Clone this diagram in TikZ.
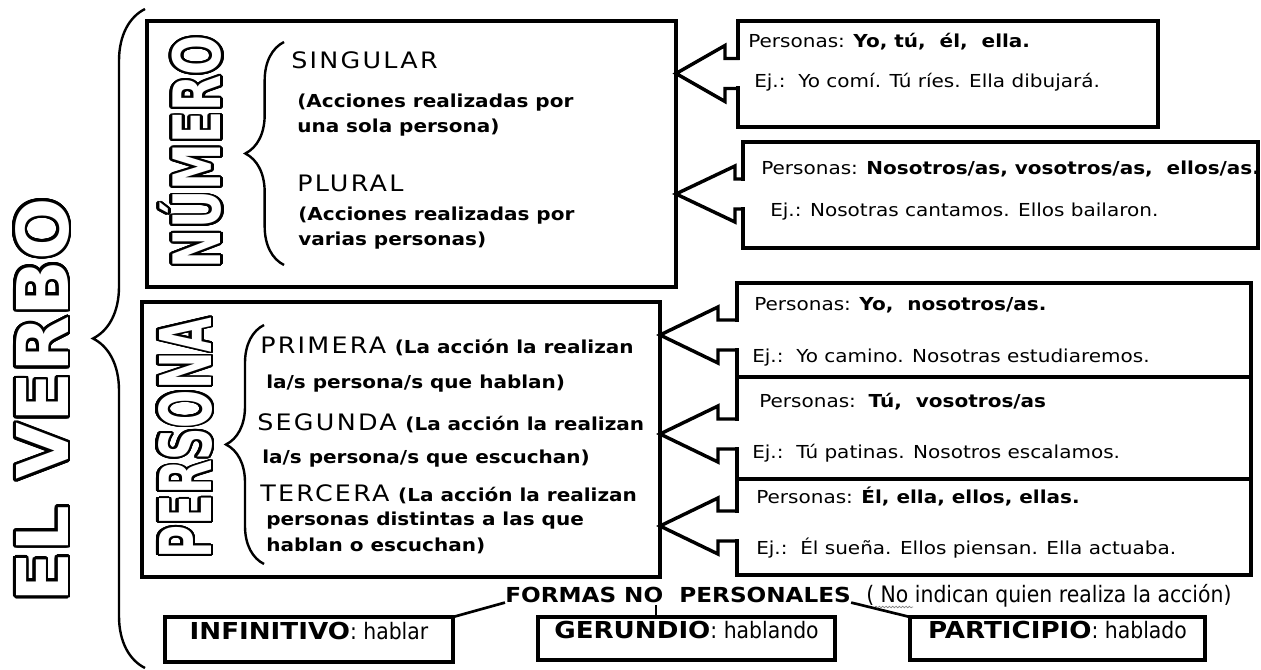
\documentclass[tikz,border=0pt]{standalone}
\usepackage{fontspec}
\setmainfont{DejaVu Sans}[FakeStretch=1.12]
\newfontfamily\capsfont{DejaVu Sans}[FakeStretch=1.12,LetterSpace=10]
\newfontfamily\narrowfont{DejaVu Sans}[FakeStretch=0.9]
\newfontfamily\titlefont{DejaVu Sans}
\usepackage[copies]{contour}
\contourlength{2pt}
\contournumber{32}
\usetikzlibrary{decorations.pathreplacing,decorations.pathmorphing,calc,fit}

\newcommand{\hueco}[2]{\scalebox{#1}[1]{\textcolor{white}{\contour{black}{#2}}}}
\newcommand{\mayus}{\capsfont\fontsize{17}{20}\selectfont}
\newcommand{\etiqueta}{\normalfont\bfseries\fontsize{17.5}{20}\selectfont}

\begin{document}
\begin{tikzpicture}[x=0.75pt,y=-0.75pt,
  caja/.style={draw,line width=2.6pt,inner sep=0pt,outer sep=0pt},
  llave/.style={decorate,decoration={brace,amplitude=#1},line width=1.8pt},
  flecha/.style={line width=2.6pt,line join=miter},
  linea/.style={line width=2pt},
  txt/.style={anchor=base west,inner sep=0pt,font=\fontsize{13.4}{16}\selectfont},
  txtb/.style={txt,font=\bfseries\fontsize{13.4}{16}\selectfont},
  grande/.style={anchor=base west,inner sep=0pt,font=\mayus},
  abajo/.style={caja,font=\narrowfont\fontsize{17}{19}\selectfont}]
   \path[fill=white] (0,0) rectangle (1261,670);
   \useasboundingbox (0,0) rectangle (1261,670);

   \node[rotate=90] (verbo) at (43.5,400) {\hueco{1.03}{\titlefont\bfseries\fontsize{53.5}{60}\selectfont EL VERBO}};
   \draw[llave=39pt] (145,668) -- (145,9);

   \node[caja,fit={(147,21) (676,287)}] (num) {};
   \node[caja,fit={(142,302) (660,577)}] (per) {};
   \node[rotate=90] (tnum) at (192,152) {\hueco{0.72}{\titlefont\bfseries\fontsize{49}{56}\selectfont NÚMERO}};
   \node[rotate=90] (tper) at (186.5,438) {\hueco{0.63}{\titlefont\bfseries\fontsize{53.5}{60}\selectfont PERSONA}};
   \draw[llave=29pt] (284,265) -- (284,42);
   \draw[llave=28.5pt] (264,564) -- (264,325);

   \node[grande] (sing) at (291,69) {SINGULAR};
   \node[txtb] (sing1) at (297,108) {(Acciones realizadas por};
   \node[txtb] (sing2) at (297,133) {una sola persona)};
   \node[grande] (plu) at (297,192) {PLURAL};
   \node[txtb] (plu1) at (298,221) {(Acciones realizadas por};
   \node[txtb] (plu2) at (298,246) {varias personas)};

   \node[txt] (pri) at (260,354) {{\mayus PRIMERA} \textbf{(La acción la realizan}};
   \node[txtb] (pri2) at (266,389) {la/s persona/s que hablan)};
   \node[txt] (seg) at (257,431) {{\mayus SEGUNDA} \textbf{(La acción la realizan}};
   \node[txtb] (seg2) at (262,463) {la/s persona/s que escuchan)};
   \node[txt] (ter) at (260,501) {{\mayus TERCERA} \textbf{(La acción la realizan}};
   \node[txtb] (ter2) at (266,525) {personas distintas a las que};
   \node[txtb] (ter3) at (266,551) {hablan o escuchan)};

   \node[caja,fit={(738,21) (1158,127)}] (c1) {};
   \node[caja,fit={(743,142) (1258,248)}] (c2) {};
   \node[caja,fit={(737,283) (1251,377)}] (c3) {};
   \node[caja,fit={(737,377) (1251,479)}] (c4) {};
   \node[caja,fit={(737,479) (1251,575)}] (c5) {};
   \coordinate (t1) at (676,73.5);
   \coordinate (t2) at (676,194);
   \coordinate (t3) at (660,335);
   \coordinate (t4) at (660,434);
   \coordinate (t5) at (660,526);
   \foreach \c/\t/\g in {c1/t1/13,c2/t2/8,c3/t3/19,c4/t4/19,c5/t5/19}{
     \coordinate (b) at (\c.west |- \t);
     \fill[white] ($(b)+(-2.5,-13)$) rectangle ($(b)+(2.5,13)$);
     \draw[flecha] ($(b)+(1.7,-15)$) -- ++(-\g-1.7,0) -- ++(0,-13) -- (\t)
        -- ($(b)+(-\g,28)$) -- ++(0,-13) -- ++(\g+1.7,0);
   }

   \node[txt] (p1) at (748,48) {Personas: \textbf{Yo, tú,~~él,~~ella.}};
   \node[txt] (e1) at (754,88) {Ej.:~~Yo comí. Tú ríes. Ella dibujará.};
   \node[txt] (p2) at (761,175) {Personas: \textbf{Nosotros/as, vosotros/as,~~ellos/as.}};
   \node[txt] (e2) at (770,217) {Ej.: Nosotras cantamos. Ellos bailaron.};
   \node[txt] (p3) at (754,311) {Personas: \textbf{Yo,~~nosotros/as.}};
   \node[txt] (e3) at (752,363) {Ej.:~~Yo camino. Nosotras estudiaremos.};
   \node[txt] (p4) at (759,407) {Personas:~~\textbf{Tú,~~vosotros/as}};
   \node[txt] (e4) at (752,459) {Ej.:~~Tú patinas. Nosotros escalamos.};
   \node[txt] (p5) at (756,503) {Personas: \textbf{Él, ella, ellos, ellas.}};
   \node[txt] (e5) at (756,554) {Ej.:~~Él sueña. Ellos piensan. Ella actuaba.};

   \node[txt,font=\bfseries\fontsize{15.5}{18}\selectfont] (formas) at (505,602) {FORMAS NO~~PERSONALES};
   \node[txt,font=\narrowfont\fontsize{17}{19}\selectfont] (nota) at (866,602) {(~No indican quien realiza la acción)};
   \node[abajo,fit={(165,617) (453,662)}] (inf) {{\etiqueta INFINITIVO}: hablar};
   \node[abajo,fit={(538,617) (835,660)}] (ger) {{\etiqueta GERUNDIO}: hablando};
   \node[abajo,fit={(910,617) (1205,660)}] (par) {{\etiqueta PARTICIPIO}: hablado};
   \coordinate (no) at (656,605);
   \draw[linea] (inf.north east) -- (formas.south west);
   \draw[linea] (no) -- (no |- ger.north);
   \draw[linea] (formas.south east) -- (par.north west);
   \draw[gray,line width=0.5pt,decorate,decoration={snake,amplitude=0.6pt,segment length=2.5pt}] (875,607) -- (913,607);
\end{tikzpicture}
\end{document}
